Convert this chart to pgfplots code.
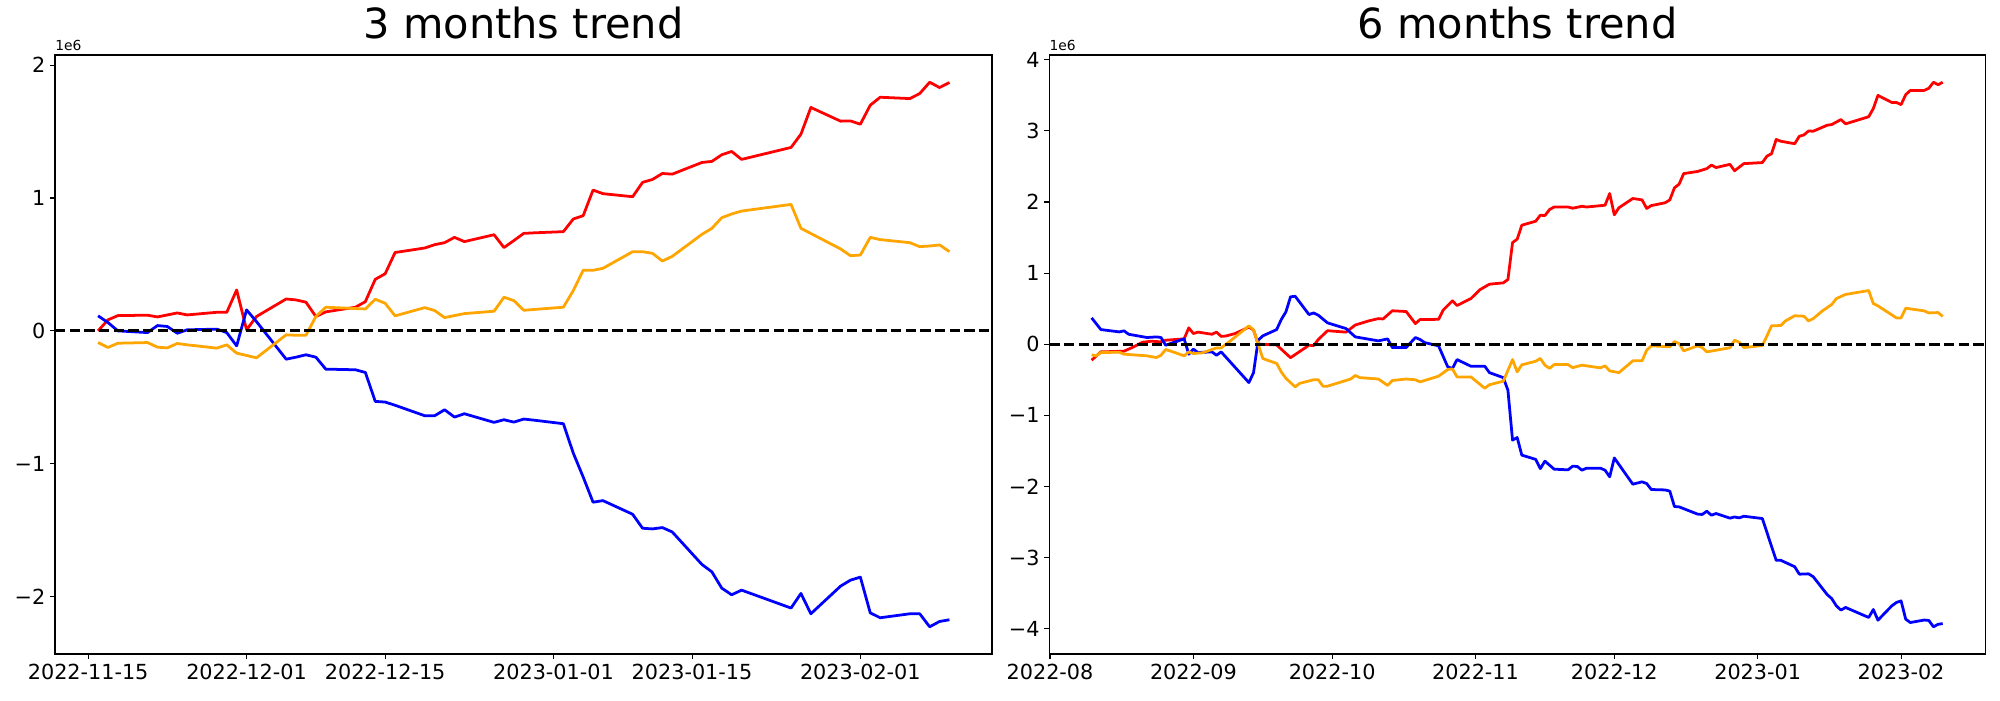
\documentclass[border=0pt]{standalone}
\usepackage{fontspec}
\setmainfont{DejaVu Sans}
\usepackage{pgfplots}
\pgfplotsset{compat=1.18}
\definecolor{mplorange}{RGB}{255,165,0}
\definecolor{mplred}{RGB}{255,0,0}
\definecolor{mplblue}{RGB}{0,0,255}
\pgfplotsset{
  trendaxis/.style={
    scale only axis, anchor=south west,
    height=432.9pt,
    axis line style={line width=0.8pt},
    tick style={line width=0.8pt, black},
    tick align=outside, major tick length=3.5pt,
    tick pos=left,
    /pgf/number format/assume math mode=true,
    ticklabel style={font=\fontsize{15}{18}\selectfont},
    title style={font=\fontsize{30}{36}\selectfont, at={(0.5,1)}, anchor=base, yshift=6pt, inner sep=0pt},
    every axis plot/.append style={line width=2pt, line join=round, mark=none},
  },
}
\begin{document}
\begin{tikzpicture}
\path (0pt,0pt) rectangle (1445.4pt,505.9pt);
% ---------------- left: 3 months
\begin{axis}[trendaxis, at={(39.75pt,33.24pt)}, width=677.17pt,
  xmin=-3.35, xmax=91.3, ymin=-2.433, ymax=2.077,
  xtick={0,16,30,47,61,78},
  xticklabels={2022-11-15,2022-12-01,2022-12-15,2023-01-01,2023-01-15,2023-02-01},
  ytick={-2,-1,0,1,2}, yticklabels={−2,−1,0,1,2},
  title={3 months trend}]
\addplot[mplred] coordinates {
(1,0.0)(2,0.083)(3,0.115)(6,0.118)(7,0.105)(8,0.12)(9,0.135)(10,0.12)(13,0.14)(14,0.14)
(15,0.308)(16,0.008)(17,0.108)(20,0.24)(21,0.233)(22,0.216)(23,0.108)(24,0.143)(27,0.178)
(28,0.22)(29,0.388)(30,0.43)(31,0.59)(34,0.624)(35,0.649)(36,0.664)(37,0.704)(38,0.672)
(41,0.724)(42,0.627)(43,0.68)(44,0.734)(45,0.738)(48,0.747)(49,0.842)(50,0.867)(51,1.06)
(52,1.033)(55,1.01)(56,1.118)(57,1.14)(58,1.185)(59,1.18)(62,1.268)(63,1.276)(64,1.326)
(65,1.351)(66,1.291)(71,1.381)(72,1.481)(73,1.682)(76,1.579)(77,1.581)(78,1.556)(79,1.699)
(80,1.759)(83,1.749)(84,1.787)(85,1.872)(86,1.832)(87,1.87)};
\addplot[mplblue] coordinates {
(1,0.113)(2,0.063)(3,0.0)(6,-0.013)(7,0.04)(8,0.033)(9,-0.018)(10,0.008)(13,0.013)(14,-0.013)
(15,-0.113)(16,0.158)(17,0.07)(20,-0.213)(21,-0.198)(22,-0.18)(23,-0.198)(24,-0.288)(27,-0.293)
(28,-0.313)(29,-0.531)(30,-0.536)(31,-0.56)(34,-0.639)(35,-0.639)(36,-0.594)(37,-0.649)(38,-0.624)
(41,-0.689)(42,-0.669)(43,-0.687)(44,-0.664)(45,-0.672)(48,-0.699)(49,-0.92)(50,-1.1)(51,-1.29)
(52,-1.278)(55,-1.381)(56,-1.486)(57,-1.491)(58,-1.481)(59,-1.514)(62,-1.759)(63,-1.814)(64,-1.937)
(65,-1.987)(66,-1.952)(71,-2.087)(72,-1.977)(73,-2.13)(76,-1.922)(77,-1.877)(78,-1.854)(79,-2.123)
(80,-2.16)(83,-2.13)(84,-2.13)(85,-2.228)(86,-2.188)(87,-2.175)};
\addplot[mplorange] coordinates {
(1,-0.088)(2,-0.125)(3,-0.093)(6,-0.088)(7,-0.123)(8,-0.128)(9,-0.095)(10,-0.105)(13,-0.13)(14,-0.105)
(15,-0.168)(16,-0.185)(17,-0.203)(20,-0.03)(21,-0.033)(22,-0.033)(23,0.108)(24,0.178)(27,0.168)
(28,0.165)(29,0.238)(30,0.208)(31,0.113)(34,0.175)(35,0.153)(36,0.1)(37,0.115)(38,0.13)
(41,0.148)(42,0.253)(43,0.228)(44,0.155)(45,0.161)(48,0.178)(49,0.303)(50,0.456)(51,0.456)
(52,0.471)(55,0.596)(56,0.596)(57,0.584)(58,0.526)(59,0.561)(62,0.727)(63,0.772)(64,0.852)
(65,0.88)(66,0.902)(71,0.952)(72,0.772)(76,0.617)(77,0.566)(78,0.571)(79,0.704)
(80,0.687)(83,0.664)(84,0.634)(85,0.639)(86,0.647)(87,0.597)};
\addplot[black, dash pattern=on 7.4pt off 3.2pt] coordinates {(-3.35,0)(91.3,0)};
\end{axis}
\node[anchor=base west, inner sep=0pt, font=\fontsize{10}{12}\selectfont] at (39.75pt,469.74pt) {1e6};
% ---------------- right: 6 months
\begin{axis}[trendaxis, at={(758.33pt,33.24pt)}, width=676.74pt,
  xmin=-0.15, xmax=202.3, ymin=-4.358, ymax=4.068,
  xtick={0,31,61,92,122,153,184},
  xticklabels={2022-08,2022-09,2022-10,2022-11,2022-12,2023-01,2023-02},
  ytick={-4,-3,-2,-1,0,1,2,3,4}, yticklabels={−4,−3,−2,−1,0,1,2,3,4},
  title={6 months trend}]
\addplot[mplred] coordinates {
(9,-0.225)(11,-0.108)(16,-0.098)(18,-0.04)(20,0.028)(22,0.042)(24,0.033)(25,0.056)(29,0.075)
(30,0.23)(31,0.15)(32,0.17)(33,0.16)(35,0.14)(36,0.17)(37,0.11)(38,0.115)(40,0.15)(43,0.24)
(44,0.2)(45,0.0)(49,-0.01)(52,-0.19)(56,-0.014)(57,-0.02)(58,0.066)(60,0.19)(64,0.17)(66,0.27)
(69,0.33)(71,0.36)(72,0.355)(74,0.47)(77,0.46)(79,0.29)(80,0.347)(84,0.35)(85,0.48)(87,0.61)
(88,0.544)(91,0.642)(93,0.769)(95,0.844)(98,0.863)(99,0.91)(100,1.43)(101,1.477)(102,1.674)
(105,1.73)(106,1.814)(107,1.81)(108,1.894)(109,1.93)(112,1.93)(113,1.913)(115,1.94)(116,1.93)
(120,1.955)(121,2.12)(122,1.82)(123,1.92)(126,2.05)(128,2.03)(129,1.91)(130,1.95)(133,1.99)
(134,2.03)(135,2.2)(136,2.25)(137,2.4)(140,2.43)(142,2.47)(143,2.52)(144,2.485)(147,2.53)
(148,2.44)(150,2.54)(154,2.555)(155,2.645)(156,2.68)(157,2.88)(158,2.855)(161,2.82)(162,2.925)
(163,2.944)(164,3.0)(165,2.996)(168,3.08)(169,3.09)(171,3.16)(172,3.1)(177,3.2)(178,3.315)
(179,3.5)(182,3.4)(183,3.4)(184,3.37)(185,3.51)(186,3.57)(189,3.57)(190,3.6)(191,3.685)
(192,3.65)(193,3.685)};
\addplot[mplblue] coordinates {
(9,0.37)(11,0.206)(15,0.173)(16,0.188)(17,0.14)(21,0.094)(23,0.103)(24,0.094)(25,-0.014)
(29,0.075)(30,-0.14)(31,-0.07)(32,-0.117)(35,-0.108)(36,-0.155)(37,-0.108)(43,-0.54)(44,-0.4)
(45,0.056)(46,0.117)(49,0.206)(50,0.347)(51,0.455)(52,0.666)(53,0.675)(56,0.417)(57,0.44)
(58,0.408)(60,0.3)(64,0.22)(66,0.103)(71,0.047)(73,0.075)(74,-0.047)(77,-0.047)(79,0.094)
(80,0.066)(81,0.023)(84,-0.023)(86,-0.32)(87,-0.342)(88,-0.216)(91,-0.31)(94,-0.31)(95,-0.4)
(98,-0.47)(99,-0.647)(100,-1.35)(101,-1.312)(102,-1.56)(105,-1.62)(106,-1.75)(107,-1.645)
(109,-1.758)(112,-1.767)(113,-1.716)(114,-1.72)(115,-1.772)(116,-1.744)(119,-1.744)(120,-1.772)
(121,-1.866)(122,-1.6)(126,-1.969)(128,-1.936)(129,-1.96)(130,-2.044)(133,-2.05)(134,-2.067)
(135,-2.283)(136,-2.288)(140,-2.39)(141,-2.395)(142,-2.35)(143,-2.405)(144,-2.382)(147,-2.447)
(148,-2.43)(149,-2.443)(150,-2.42)(154,-2.452)(157,-3.04)(158,-3.04)(161,-3.13)(162,-3.235)
(164,-3.23)(165,-3.27)(168,-3.52)(169,-3.578)(170,-3.68)(171,-3.74)(172,-3.703)(177,-3.844)
(178,-3.732)(179,-3.882)(182,-3.68)(183,-3.633)(184,-3.61)(185,-3.868)(186,-3.915)(189,-3.88)
(190,-3.886)(191,-3.975)(192,-3.94)(193,-3.93)};
\addplot[mplorange] coordinates {
(9,-0.15)(10,-0.164)(11,-0.117)(15,-0.113)(16,-0.14)(21,-0.164)(23,-0.188)(24,-0.155)(25,-0.075)
(27,-0.117)(29,-0.164)(30,-0.108)(31,-0.131)(33,-0.12)(35,-0.075)(36,-0.052)(37,-0.052)(39,0.047)
(43,0.258)(44,0.2)(45,0.0)(46,-0.2)(47,-0.225)(49,-0.27)(50,-0.39)(51,-0.48)(53,-0.6)(54,-0.55)
(57,-0.5)(58,-0.5)(59,-0.59)(60,-0.59)(65,-0.49)(66,-0.44)(67,-0.47)(71,-0.49)(73,-0.58)(74,-0.51)
(77,-0.49)(79,-0.5)(80,-0.53)(84,-0.45)(86,-0.356)(87,-0.347)(88,-0.46)(91,-0.46)(94,-0.62)
(95,-0.57)(98,-0.52)(100,-0.216)(101,-0.39)(102,-0.29)(105,-0.24)(106,-0.2)(107,-0.295)(108,-0.34)
(109,-0.286)(112,-0.286)(113,-0.33)(115,-0.295)(119,-0.333)(120,-0.305)(121,-0.375)(123,-0.4)
(126,-0.234)(128,-0.234)(129,-0.084)(130,-0.023)(134,-0.037)(135,0.037)(136,0.01)(137,-0.094)
(140,-0.023)(141,-0.047)(142,-0.108)(147,-0.05)(148,0.056)(149,0.028)(150,-0.047)(154,-0.019)
(155,0.117)(156,0.258)(158,0.263)(159,0.328)(161,0.4)(163,0.394)(164,0.328)(165,0.36)(167,0.469)
(169,0.558)(170,0.642)(172,0.7)(177,0.755)(178,0.572)(179,0.539)(183,0.37)(184,0.37)(185,0.506)
(186,0.497)(189,0.469)(190,0.44)(192,0.445)(193,0.39)};
\addplot[black, dash pattern=on 7.4pt off 3.2pt] coordinates {(-0.15,0)(202.3,0)};
\end{axis}
\node[anchor=base west, inner sep=0pt, font=\fontsize{10}{12}\selectfont] at (758.33pt,469.74pt) {1e6};
\end{tikzpicture}
\end{document}
